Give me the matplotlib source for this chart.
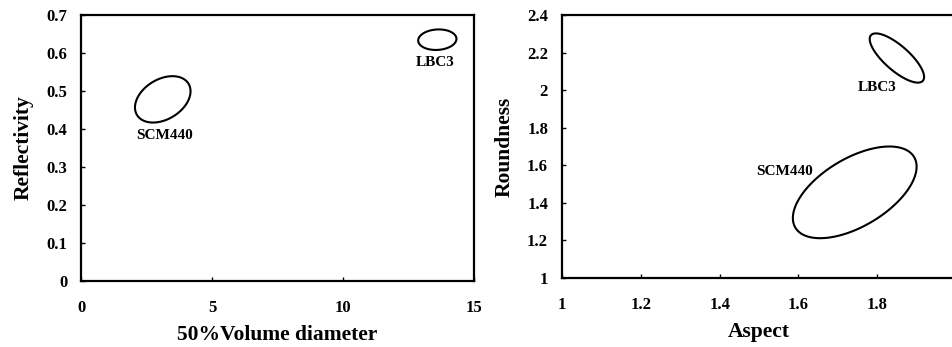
import numpy as np
import matplotlib
matplotlib.use("Agg")
import matplotlib.pyplot as plt

plt.rcParams['font.family'] = ['Liberation Serif', 'DejaVu Serif']
plt.rcParams['font.weight'] = 'bold'

# Left panel: 50% volume diameter vs reflectivity (ellipse: center, half-extent x/y, correlation)
left_names = ["SCM440", "LBC3"]
left_cx = [3.12, 13.6]
left_cy = [0.478, 0.635]
left_sx = [1.06, 0.73]
left_sy = [0.061, 0.027]
left_rho = [0.35, 0.08]
left_label_x = [3.17, 13.5]
left_label_y = [0.384, 0.576]
left_xticks = [0, 5, 10, 15]
left_yticks = [0, 0.1, 0.2, 0.3, 0.4, 0.5, 0.6, 0.7]
left_yticklabels = ["0", "0.1", "0.2", "0.3", "0.4", "0.5", "0.6", "0.7"]

# Right panel: aspect vs roundness
right_names = ["SCM440", "LBC3"]
right_cx = [1.743, 1.85]
right_cy = [1.456, 2.171]
right_sx = [0.157, 0.069]
right_sy = [0.244, 0.131]
right_rho = [0.56, -0.77]
right_label_x = [1.565, 1.80]
right_label_y = [1.566, 2.015]
right_xticks = [1, 1.2, 1.4, 1.6, 1.8, 2.0]
right_xticklabels = ["1", "1.2", "1.4", "1.6", "1.8", "2"]
right_yticks = [1, 1.2, 1.4, 1.6, 1.8, 2.0, 2.2, 2.4]
right_yticklabels = ["1", "1.2", "1.4", "1.6", "1.8", "2", "2.2", "2.4"]

fig = plt.figure(figsize=(9.52, 3.47), dpi=100)
axL = fig.add_axes([0.0851, 0.1902, 0.4128, 0.7666])
axR = fig.add_axes([0.5903, 0.1988, 0.4139, 0.758])

t = np.linspace(0, 2 * np.pi, 300, endpoint=False)

def draw(ax, cx, cy, sx, sy, rho, names, lx, ly):
    for i in range(len(cx)):
        x = cx[i] + sx[i] * np.cos(t)
        y = cy[i] + sy[i] * (rho[i] * np.cos(t) + np.sqrt(1 - rho[i] ** 2) * np.sin(t))
        ax.fill(x, y, fill=False, edgecolor='black', lw=1.5)
        ax.text(lx[i], ly[i], names[i], ha='center', va='center', fontsize=11,
                fontweight='bold')

def style(ax):
    for s in ax.spines.values():
        s.set_linewidth(1.6)
    ax.tick_params(direction='in', length=3, width=1, labelsize=12)
    for lab in ax.get_xticklabels() + ax.get_yticklabels():
        lab.set_fontweight('bold')

draw(axL, left_cx, left_cy, left_sx, left_sy, left_rho, left_names, left_label_x, left_label_y)
axL.set_xlim(0, 15)
axL.set_ylim(0, 0.7)
axL.set_xticks(left_xticks)
axL.set_xticklabels([str(v) for v in left_xticks])
axL.set_yticks(left_yticks)
axL.set_yticklabels(left_yticklabels)
style(axL)
axL.tick_params(axis='x', pad=14)
axL.tick_params(axis='y', pad=10)
axL.set_xlabel("50%Volume diameter", fontsize=15.5, fontweight='bold', labelpad=6)
axL.set_ylabel("Reflectivity", fontsize=15.5, fontweight='bold', labelpad=9)

draw(axR, right_cx, right_cy, right_sx, right_sy, right_rho, right_names, right_label_x, right_label_y)
axR.set_xlim(1, 2)
axR.set_ylim(1, 2.4)
axR.set_xticks(right_xticks)
axR.set_xticklabels(right_xticklabels)
axR.set_yticks(right_yticks)
axR.set_yticklabels(right_yticklabels)
style(axR)
axR.tick_params(axis='x', pad=14)
axR.tick_params(axis='y', pad=10)
axR.set_xlabel("Aspect", fontsize=15.5, fontweight='bold', labelpad=6)
axR.set_ylabel("Roundness", fontsize=15.5, fontweight='bold', labelpad=9)

fig.savefig("out.png", dpi=100)
